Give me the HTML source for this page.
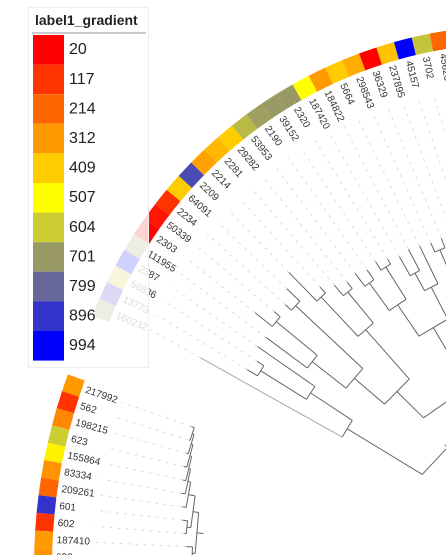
<!DOCTYPE html>
<html><head><meta charset="utf-8"><style>
html,body{margin:0;padding:0;background:#fff;width:446px;height:555px;overflow:hidden}
svg{display:block;font-family:"Liberation Sans",sans-serif}
</style></head><body>
<svg id="chart" width="446" height="555" viewBox="0 0 446 555" xmlns="http://www.w3.org/2000/svg">
<g id="bottom-layer"></g>
<g id="top-layer"></g>
<g id="legend"></g>
</svg>
<script>
// ---- data ----
const legendValues = [20,117,214,312,409,507,604,701,799,896,994];
const legendColors = ["#ff0000","#ff3300","#ff6600","#ff9900","#ffcc00","#ffff00","#cccc33","#999966","#666699","#3333cc","#0000ff"];
const topLabels = ["160232","13773","56836","2387","111955","2303","50339","2234","64091","2209","2214","2281","29282","53953","2190","39152","2320","187420","184822","5664","298543","36329","237895","45157","3702","45620","8090"];
const topValues = [701,896,604,994,701,20,60,117,409,850,330,370,409,640,690,700,701,507,312,409,350,20,390,994,620,214,409];
const topLeafR = [430,384,380,388,386,410,396,392,402,412,380,372,366,368,364,366,362,358,360,358,356,356,354,354,352,350,348];
// internal nodes: children ids (leaf index, or 100+k for node k), and radius
const nodeChildren = [[1,2],[100,3],[0,101],[5,6],[4,103],[7,8],[104,105],[9,10],[11,12],[107,108],[106,109],[13,14],[15,16],[111,112],[17,18],[114,19],[113,115],[20,21],[22,23],[117,118],[24,25],[119,120],[116,121],[110,122],[102,123],[124,26]];
const nodeRadius = [372,318,268,388,335,384,292,372,358,318,252,352,356,318,336,316,280,346,350,320,350,296,240,214,180,150];
const rootRadius = 118;
const bottomLabels = ["217992","562","198215","623","155864","83334","209261","601","602","187410","632"];
const bottomValues = [312,117,280,604,480,300,214,896,117,312,300];
const bottomLeafR = [426,424,423,422,420,419,416,414,411,408,404];
const bottomNodeChildren = [[0,1],[100,2],[101,3],[102,4],[103,5],[104,6],[7,8],[105,106],[9,10],[107,108]];
const bottomNodeRadius = [423,421,419,417,415,412,409,405,402,399];

// ---- geometry ----
const NS="http://www.w3.org/2000/svg";
function el(tag,attrs,parent){const e=document.createElementNS(NS,tag);for(const k in attrs)e.setAttribute(k,attrs[k]);parent.appendChild(e);return e;}
function colorFor(v){const t=(v-20)/(994-20)*10;const i=Math.max(0,Math.min(9,Math.floor(t)));const f=Math.max(0,Math.min(1,t-i));
 const a=legendColors[i],b=legendColors[i+1];const p=s=>[1,3,5].map(j=>parseInt(s.substr(j,2),16));
 const A=p(a),B=p(b);return "rgb("+A.map((x,j)=>Math.round(x+(B[j]-x)*f)).join(",")+")";}
const rad=d=>d*Math.PI/180;
function pt(c,r,deg){return [c[0]+r*Math.cos(rad(deg)),c[1]+r*Math.sin(rad(deg))];}
function arcPath(c,r0,r1,a0,a1){const p1=pt(c,r1,a0),p2=pt(c,r1,a1),p3=pt(c,r0,a1),p4=pt(c,r0,a0);
 return `M${p1} A${r1},${r1} 0 0 1 ${p2} L${p3} A${r0},${r0} 0 0 0 ${p4}Z`;}

function drawTree(layer,cfg){
 const {ringC,treeC,ringR0,ringR1,a0,step,labels,values,leafR,nc,nr,labelR,dashR,root,prefix}=cfg;
 const n=labels.length;const leafAng=[],leafEnd=[];
 for(let i=0;i<n;i++){
  const th=a0+step*i;
  const P=pt(ringC,dashR,th);
  const phi=Math.atan2(P[1]-treeC[1],P[0]-treeC[0])*180/Math.PI;
  leafAng.push(phi);leafEnd.push(leafR[i]);
  const E=pt(treeC,leafR[i],phi);
  const d=el("line",{x1:E[0],y1:E[1],x2:P[0],y2:P[1],stroke:"#dcdcdc","stroke-width":1,"stroke-dasharray":"3,5"},layer);
  
  
  const s=el("path",{d:arcPath(ringC,ringR0,ringR1,th-step/2,th+step/2),fill:colorFor(values[i])},layer);
  
  
  const L=pt(ringC,labelR,th);
  const t=el("text",{x:L[0],y:L[1],"font-size":10,fill:"#333","dominant-baseline":"middle",transform:`rotate(${th+180} ${L[0]} ${L[1]})`},layer);
  t.textContent=labels[i];
  
  
 }
 const angOf=id=>id>=100?nodeAng[id-100]:leafAng[id];
 const rOf=id=>id>=100?nr[id-100]:leafEnd[id];
 const nodeAng=[];
 nc.forEach((ch,k)=>{
  nodeAng[k]=(angOf(ch[0])+angOf(ch[1]))/2;
  const R=nr[k];
  ch.forEach(c=>{const A=pt(treeC,R,angOf(c)),B=pt(treeC,rOf(c),angOf(c));
   const b=el("line",{x1:A[0],y1:A[1],x2:B[0],y2:B[1],stroke:c===0&&prefix==="top-"?"#aaa":"#666","stroke-width":1},layer);
   
   });
  const A=pt(treeC,R,angOf(ch[0])),B=pt(treeC,R,angOf(ch[1]));
  const j=el("line",{x1:A[0],y1:A[1],x2:B[0],y2:B[1],stroke:"#666","stroke-width":1},layer);
  
  
 });
 if(root){const last=nc.length-1;const A=pt(treeC,nr[last],nodeAng[last]),B=pt(treeC,root,nodeAng[last]);
  const r=el("line",{x1:A[0],y1:A[1],x2:B[0],y2:B[1],stroke:"#666","stroke-width":1},layer);
  
  }
}

drawTree(document.getElementById("top-layer"),{ringC:[518,482],treeC:[576,568],ringR0:439,ringR1:457,a0:-157.5,step:2.3,
 labels:topLabels,values:topValues,leafR:topLeafR,nc:nodeChildren,nr:nodeRadius,labelR:435,dashR:398,root:rootRadius,prefix:"top-"});
drawTree(document.getElementById("bottom-layer"),{ringC:[594,566],treeC:[594,566],ringR0:542,ringR1:560,a0:-160.9,step:-1.82,
 labels:bottomLabels,values:bottomValues,leafR:bottomLeafR,nc:bottomNodeChildren,nr:bottomNodeRadius,labelR:538,dashR:500,root:392,prefix:"bottom-"});

// ---- legend ----
const lg=document.getElementById("legend");
const box=el("rect",{x:28.5,y:7.5,width:120,height:360,fill:"rgba(255,255,255,0.82)",stroke:"#eeeeee"},lg);


const ttl=el("text",{x:35,y:25,"font-size":14,"font-weight":"bold",fill:"#222"},lg);
ttl.textContent="label1_gradient";


const ul=el("line",{x1:32,y1:33,x2:146,y2:33,stroke:"#bbb","stroke-width":1.5},lg);


legendValues.forEach((v,i)=>{
 const y=35+i*29.6;
 const r=el("rect",{x:33,y:y,width:31,height:29.6,fill:legendColors[i]},lg);
 
 
 const t=el("text",{x:69,y:y+15,"font-size":16,fill:"#222","dominant-baseline":"middle"},lg);
 t.textContent=v;
 
 
});
</script>
</body></html>
